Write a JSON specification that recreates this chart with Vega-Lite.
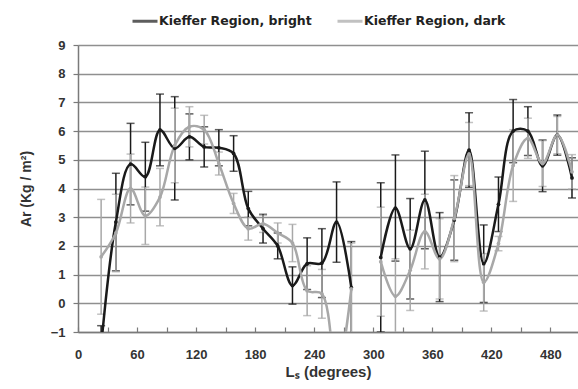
{
  "$schema": "https://vega.github.io/schema/vega-lite/v6.json",
  "width": 500,
  "height": 287,
  "autosize": {"type": "none"},
  "padding": {"left": 78, "top": 45, "right": 0, "bottom": 57},
  "background": "white",
  "config": {
    "view": {"stroke": null},
    "font": "Liberation Sans",
    "axis": {
      "labelFont": "Liberation Sans",
      "labelFontWeight": "bold",
      "labelFontSize": 13,
      "labelColor": "#333333",
      "titleFont": "Liberation Sans",
      "titleFontWeight": "bold",
      "titleFontSize": 14,
      "titleColor": "#333333",
      "domainColor": "#7a7a7a",
      "domainWidth": 1.5,
      "tickColor": "#7a7a7a",
      "tickWidth": 1.2,
      "gridColor": "#8f8f8f",
      "gridWidth": 1.5,
      "gridOpacity": 1
    },
    "legend": {
      "labelFont": "DejaVu Sans",
      "labelFontWeight": "bold",
      "labelFontSize": 12.5,
      "labelColor": "#222222",
      "labelLimit": 400
    }
  },
  "data": {
    "values": [
      {"Ls": 23.5, "series": "Kieffer Region, bright", "Ar": -1.5, "err": 0.72, "part": 1},
      {"Ls": 38.5, "series": "Kieffer Region, bright", "Ar": 2.83, "err": 1.7, "part": 1},
      {"Ls": 53.4, "series": "Kieffer Region, bright", "Ar": 4.85, "err": 1.42, "part": 1},
      {"Ls": 68.4, "series": "Kieffer Region, bright", "Ar": 4.41, "err": 1.2, "part": 1},
      {"Ls": 83.3, "series": "Kieffer Region, bright", "Ar": 6.04, "err": 1.25, "part": 1},
      {"Ls": 98.3, "series": "Kieffer Region, bright", "Ar": 5.4, "err": 1.8, "part": 1},
      {"Ls": 113.2, "series": "Kieffer Region, bright", "Ar": 5.8, "err": 0.8, "part": 1},
      {"Ls": 128.2, "series": "Kieffer Region, bright", "Ar": 5.45, "err": 0.7, "part": 1},
      {"Ls": 143.1, "series": "Kieffer Region, bright", "Ar": 5.42, "err": 0.63, "part": 1},
      {"Ls": 158.1, "series": "Kieffer Region, bright", "Ar": 5.22, "err": 0.62, "part": 1},
      {"Ls": 173.0, "series": "Kieffer Region, bright", "Ar": 3.3, "err": 0.6, "part": 1},
      {"Ls": 188.0, "series": "Kieffer Region, bright", "Ar": 2.6, "err": 0.5, "part": 1},
      {"Ls": 202.9, "series": "Kieffer Region, bright", "Ar": 2.0, "err": 0.45, "part": 1},
      {"Ls": 217.9, "series": "Kieffer Region, bright", "Ar": 0.62, "err": 0.65, "part": 1},
      {"Ls": 232.8, "series": "Kieffer Region, bright", "Ar": 1.38, "err": 0.9, "part": 1},
      {"Ls": 247.8, "series": "Kieffer Region, bright", "Ar": 1.4, "err": 1.2, "part": 1},
      {"Ls": 262.7, "series": "Kieffer Region, bright", "Ar": 2.83, "err": 1.4, "part": 1},
      {"Ls": 277.7, "series": "Kieffer Region, bright", "Ar": 0.55, "err": 1.6, "part": 1},
      {"Ls": 307.6, "series": "Kieffer Region, bright", "Ar": 1.6, "err": 2.6, "part": 2},
      {"Ls": 322.5, "series": "Kieffer Region, bright", "Ar": 3.32, "err": 1.85, "part": 2},
      {"Ls": 337.5, "series": "Kieffer Region, bright", "Ar": 1.9, "err": 1.75, "part": 2},
      {"Ls": 352.4, "series": "Kieffer Region, bright", "Ar": 3.6, "err": 1.7, "part": 2},
      {"Ls": 367.4, "series": "Kieffer Region, bright", "Ar": 1.61, "err": 1.55, "part": 2},
      {"Ls": 382.3, "series": "Kieffer Region, bright", "Ar": 2.9, "err": 1.4, "part": 2},
      {"Ls": 397.3, "series": "Kieffer Region, bright", "Ar": 5.34, "err": 1.3, "part": 2},
      {"Ls": 412.2, "series": "Kieffer Region, bright", "Ar": 1.38, "err": 1.35, "part": 2},
      {"Ls": 427.2, "series": "Kieffer Region, bright", "Ar": 3.45, "err": 0.95, "part": 2},
      {"Ls": 442.1, "series": "Kieffer Region, bright", "Ar": 6.0, "err": 1.1, "part": 2},
      {"Ls": 457.1, "series": "Kieffer Region, bright", "Ar": 6.0, "err": 0.85, "part": 2},
      {"Ls": 472.0, "series": "Kieffer Region, bright", "Ar": 4.79, "err": 0.9, "part": 2},
      {"Ls": 487.0, "series": "Kieffer Region, bright", "Ar": 5.86, "err": 0.7, "part": 2},
      {"Ls": 501.9, "series": "Kieffer Region, bright", "Ar": 4.37, "err": 0.7, "part": 2},
      {"Ls": 23.5, "series": "Kieffer Region, dark", "Ar": 1.62, "err": 2.0, "part": 1},
      {"Ls": 38.5, "series": "Kieffer Region, dark", "Ar": 2.45, "err": 1.35, "part": 1},
      {"Ls": 53.4, "series": "Kieffer Region, dark", "Ar": 4.0, "err": 1.2, "part": 1},
      {"Ls": 68.4, "series": "Kieffer Region, dark", "Ar": 3.05, "err": 1.0, "part": 1},
      {"Ls": 83.3, "series": "Kieffer Region, dark", "Ar": 3.7, "err": 1.0, "part": 1},
      {"Ls": 98.3, "series": "Kieffer Region, dark", "Ar": 5.5, "err": 1.3, "part": 1},
      {"Ls": 113.2, "series": "Kieffer Region, dark", "Ar": 6.15, "err": 0.7, "part": 1},
      {"Ls": 128.2, "series": "Kieffer Region, dark", "Ar": 6.05, "err": 0.5, "part": 1},
      {"Ls": 143.1, "series": "Kieffer Region, dark", "Ar": 4.87, "err": 0.4, "part": 1},
      {"Ls": 158.1, "series": "Kieffer Region, dark", "Ar": 3.48, "err": 0.35, "part": 1},
      {"Ls": 173.0, "series": "Kieffer Region, dark", "Ar": 2.6, "err": 0.4, "part": 1},
      {"Ls": 188.0, "series": "Kieffer Region, dark", "Ar": 2.77, "err": 0.3, "part": 1},
      {"Ls": 202.9, "series": "Kieffer Region, dark", "Ar": 2.45, "err": 0.35, "part": 1},
      {"Ls": 217.9, "series": "Kieffer Region, dark", "Ar": 2.1, "err": 0.65, "part": 1},
      {"Ls": 232.8, "series": "Kieffer Region, dark", "Ar": 0.44, "err": 0.87, "part": 1},
      {"Ls": 247.8, "series": "Kieffer Region, dark", "Ar": 0.33, "err": 0.85, "part": 1},
      {"Ls": 262.7, "series": "Kieffer Region, dark", "Ar": -2.5, "err": 0.8, "part": 1},
      {"Ls": 277.7, "series": "Kieffer Region, dark", "Ar": 0.5, "err": 1.6, "part": 1},
      {"Ls": 307.6, "series": "Kieffer Region, dark", "Ar": 1.45, "err": 1.9, "part": 2},
      {"Ls": 322.5, "series": "Kieffer Region, dark", "Ar": 0.25, "err": 1.3, "part": 2},
      {"Ls": 337.5, "series": "Kieffer Region, dark", "Ar": 1.15, "err": 1.4, "part": 2},
      {"Ls": 352.4, "series": "Kieffer Region, dark", "Ar": 2.5, "err": 1.3, "part": 2},
      {"Ls": 367.4, "series": "Kieffer Region, dark", "Ar": 1.55, "err": 1.4, "part": 2},
      {"Ls": 382.3, "series": "Kieffer Region, dark", "Ar": 2.95, "err": 1.5, "part": 2},
      {"Ls": 397.3, "series": "Kieffer Region, dark", "Ar": 5.2, "err": 1.1, "part": 2},
      {"Ls": 412.2, "series": "Kieffer Region, dark", "Ar": 0.73, "err": 1.0, "part": 2},
      {"Ls": 427.2, "series": "Kieffer Region, dark", "Ar": 2.08, "err": 0.25, "part": 2},
      {"Ls": 442.1, "series": "Kieffer Region, dark", "Ar": 4.8, "err": 1.25, "part": 2},
      {"Ls": 457.1, "series": "Kieffer Region, dark", "Ar": 5.75, "err": 0.7, "part": 2},
      {"Ls": 472.0, "series": "Kieffer Region, dark", "Ar": 4.87, "err": 0.8, "part": 2},
      {"Ls": 487.0, "series": "Kieffer Region, dark", "Ar": 5.86, "err": 0.65, "part": 2},
      {"Ls": 501.9, "series": "Kieffer Region, dark", "Ar": 4.58, "err": 0.6, "part": 2}
    ]
  },
  "encoding": {
    "x": {
      "field": "Ls",
      "type": "quantitative",
      "scale": {"domain": [0, 508], "nice": false, "zero": false},
      "axis": {
        "title": "Lₛ (degrees)",
        "titleFontSize": 15,
        "values": [0, 30, 60, 90, 120, 150, 180, 210, 240, 270, 300, 330, 360, 390, 420, 450, 480],
        "labelExpr": "datum.value % 60 === 0 ? datum.label : ''",
        "tickSize": -5,
        "labelPadding": 21,
        "titlePadding": 3,
        "grid": false,
        "labelFlush": false
      }
    },
    "y": {
      "field": "Ar",
      "type": "quantitative",
      "scale": {"domain": [-1, 9], "nice": false, "zero": false},
      "axis": {
        "title": "Ar (Kg / m²)",
        "values": [-1, 0, 1, 2, 3, 4, 5, 6, 7, 8, 9],
        "tickSize": 5,
        "labelPadding": 8,
        "titlePadding": 17,
        "grid": true
      }
    },
    "color": {
      "field": "series",
      "type": "nominal",
      "scale": {"domain": ["Kieffer Region, bright", "Kieffer Region, dark"], "range": ["#1a1a1a", "#a8a8a8"]},
      "legend": {
        "title": null,
        "orient": "none",
        "legendX": 53,
        "legendY": -38,
        "direction": "horizontal",
        "symbolType": "stroke",
        "symbolSize": 625,
        "symbolStrokeWidth": 3,
        "columnPadding": 19,
        "labelOffset": 0
      }
    }
  },
  "layer": [
    {
      "mark": {"type": "errorbar", "ticks": {"size": 8, "thickness": 1.5}, "thickness": 1.5, "clip": true},
      "encoding": {
        "y": {"field": "Ar", "type": "quantitative"},
        "yError": {"field": "err"},
        "detail": {"field": "Ls", "type": "quantitative"}
      }
    },
    {
      "mark": {"type": "line", "interpolate": "catmull-rom", "strokeWidth": 2.5, "clip": true},
      "encoding": {"detail": {"field": "part", "type": "nominal"}}
    },
    {
      "mark": {"type": "point", "filled": true, "size": 14, "opacity": 1, "clip": true},
      "encoding": {}
    }
  ]
}
